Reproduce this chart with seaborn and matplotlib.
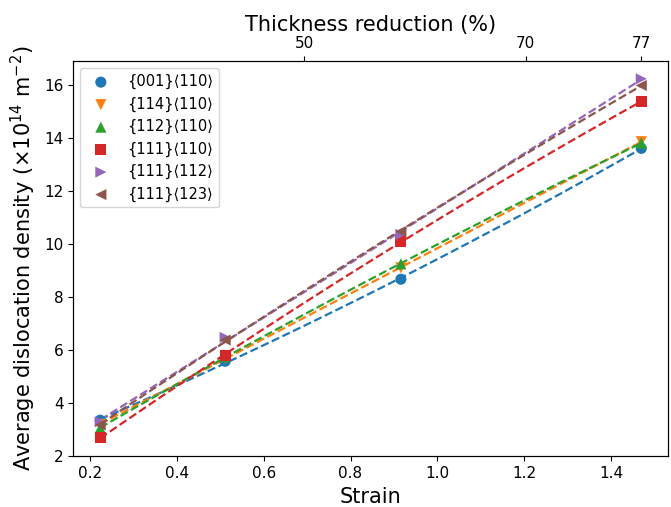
import numpy as np
import pandas as pd
import seaborn as sns
import matplotlib.pyplot as plt


# ----------------------------------------
# DATA
# ----------------------------------------

strain = [0.223, 0.511, 0.916, 1.470]

labels = ["{001}⟨110⟩", "{114}⟨110⟩", "{112}⟨110⟩",
          "{111}⟨110⟩", "{111}⟨112⟩", "{111}⟨123⟩"]

rho_001_110 = [3.36, 5.58, 8.67, 13.60]
rho_114_110 = [3.20, 5.70, 9.10, 13.85]
rho_112_110 = [3.07, 5.75, 9.25, 13.80]
rho_111_110 = [2.70, 5.80, 10.10, 15.36]
rho_111_112 = [3.30, 6.48, 10.36, 16.22]
rho_111_123 = [3.18, 6.38, 10.47, 15.97]

series = [rho_001_110, rho_114_110, rho_112_110,
          rho_111_110, rho_111_112, rho_111_123]

markers = ["o", "v", "^", "s", ">", "<"]
colors = sns.color_palette("tab10", 6)

# top axis: thickness reduction ticks
reduction_ticks = [50, 70, 77]


# ----------------------------------------
# PLOT
# ----------------------------------------

fig, ax = plt.subplots(figsize=(6.71, 5.07), dpi=100)
fig.subplots_adjust(left=0.109, right=0.996, top=0.880, bottom=0.100)

for lab, vals, mk, col in zip(labels, series, markers, colors):
    df = pd.DataFrame({"strain": strain, "rho": vals})
    sns.regplot(data=df, x="strain", y="rho", order=2, ci=None,
                scatter=False, color=col,
                line_kws={"ls": "--", "lw": 1.6}, ax=ax)
    sns.scatterplot(data=df, x="strain", y="rho", marker=mk, color=col,
                    s=64, edgecolor="none", label=lab, ax=ax, zorder=3)

ax.set_xlabel("Strain", fontsize=15)
ax.set_ylabel("Average dislocation density ($\\times10^{14}$ m$^{-2}$)",
              fontsize=15)
ax.tick_params(labelsize=11)
ax.set_yticks([2, 4, 6, 8, 10, 12, 14, 16])

ax.legend(loc="upper left", fontsize=10.5)

# secondary axis on top
ax2 = ax.twiny()
ax2.set_xlim(ax.get_xlim())
ax2.set_xticks([-np.log(1 - r / 100) for r in reduction_ticks])
ax2.set_xticklabels([str(r) for r in reduction_ticks])
ax2.tick_params(labelsize=11)
ax2.set_xlabel("Thickness reduction (%)", fontsize=15)

plt.savefig("out.png", dpi=100)
